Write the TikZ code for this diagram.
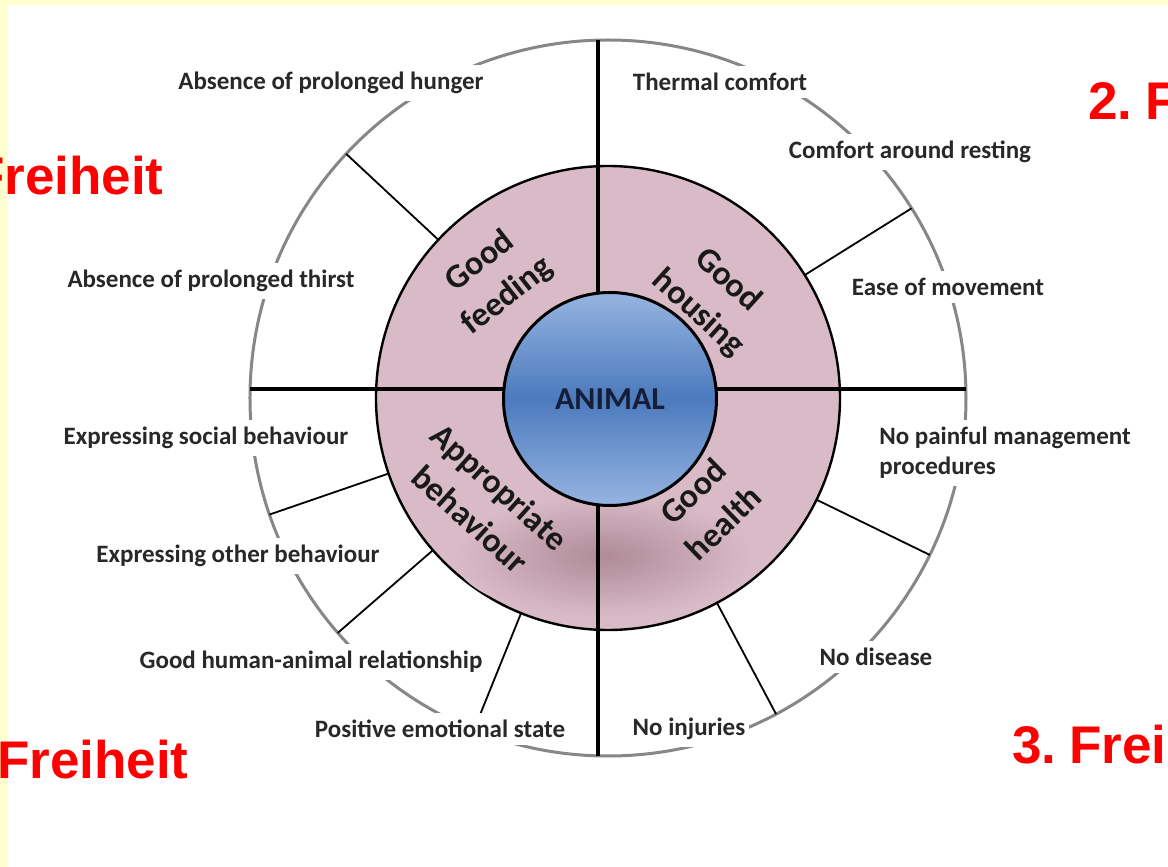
\documentclass[tikz,border=0pt]{standalone}
\usepackage{fontspec}
\setmainfont{Carlito}
\newfontfamily\arialfont{Liberation Sans}
\usepackage{tikz}

\definecolor{pagepale}{RGB}{255,255,208}
\definecolor{ringpink}{RGB}{217,187,199}
\definecolor{ringshade}{RGB}{176,138,152}
\definecolor{rimgrey}{RGB}{135,135,135}
\definecolor{labelgrey}{RGB}{40,40,40}
\definecolor{bluelight}{RGB}{150,180,224}
\definecolor{bluedark}{RGB}{76,122,190}
\definecolor{animalnavy}{RGB}{22,30,55}

\newcommand{\tightspace}{\spaceskip=8pt\relax}

\tikzstyle{rim} = [draw=rimgrey, line width=3pt]
\tikzstyle{spoke} = [draw=black, line width=1.8pt]
\tikzstyle{cross} = [draw=black, line width=3.2pt]
\tikzstyle{need} = [fill=white, inner xsep=4pt, inner ysep=7pt, text=labelgrey, font=\fontsize{25}{30}\selectfont\bfseries]
\tikzstyle{area} = [align=center, text=black!90, font=\fontsize{34}{44}\selectfont\bfseries]
\tikzstyle{core} = [circle, draw=black, line width=3pt, minimum size=213pt, top color=bluelight, bottom color=bluelight, middle color=bluedark, text=animalnavy, font=\fontsize{32}{34}\selectfont\bfseries]
\tikzstyle{freedom} = [anchor=base west, inner sep=0pt, text=red, font=\arialfont\bfseries\fontsize{53}{60}\selectfont\tightspace]

\begin{document}
\begin{tikzpicture}[x=1pt, y=1pt]
	\fill[pagepale] (-608,-469) rectangle (560,398);
	\fill[white] (-600,-469) rectangle (560,393);
	\useasboundingbox (-608,-469) rectangle (560,398);

	% outer rim and the spokes between the criteria
	\draw[rim] (0,0) circle (358);
	\foreach \a in {137,32,-26,-62,199,221,248}
		\draw[spoke] (\a:230) -- (\a:358);

	% principle ring
	\draw[fill=ringpink, line width=2.4pt] (0,0) circle (232);
	\shade[inner color=ringshade, outer color=ringpink] (-4,-158) ellipse (150 and 62);
	\draw[cross] (-10,357.9) -- (-10,-357.9);
	\draw[cross] (-357.9,9) -- (357.9,9);

	\node (animal) [core] at (2,-1) {ANIMAL};

	\node (feeding) [area, rotate=38] at (-114,119) {Good\\feeding};
	\node (housing) [area, rotate=-42] at (105,101) {Good\\housing};
	\node (behaviour) [area, rotate=-42] at (-123,-105) {Appropriate\\behaviour};
	\node (health) [area, rotate=44] at (100,-109) {Good\\health};

	% criteria
	\node (hunger) [need] at (-277,315) {Absence of prolonged hunger};
	\node (thirst) [need] at (-397,117) {Absence of prolonged thirst};
	\node (thermal) [need] at (112,316) {Thermal comfort};
	\node (resting) [need] at (302,246) {Comfort around resting};
	\node (movement) [need] at (340,111) {Ease of movement};
	\node (painful) [need, align=left] at (397,-55) {No painful management\\procedures};
	\node (disease) [need] at (268,-259) {No disease};
	\node (injuries) [need] at (81,-331) {No injuries};
	\node (emotional) [need] at (-168,-331) {Positive emotional state};
	\node (human) [need] at (-297,-264) {Good human-animal relationship};
	\node (other) [need] at (-370,-158) {Expressing other behaviour};
	\node (social) [need] at (-402,-40) {Expressing social behaviour};

	\node (free1) [freedom] at (-636,203) {Freiheit};
	\node (free2) [freedom] at (480,278) {2. F};
	\node (free3) [freedom] at (404,-365) {3. Frei};
	\node (free4) [freedom] at (-611,-380) {Freiheit};
\end{tikzpicture}
\end{document}
